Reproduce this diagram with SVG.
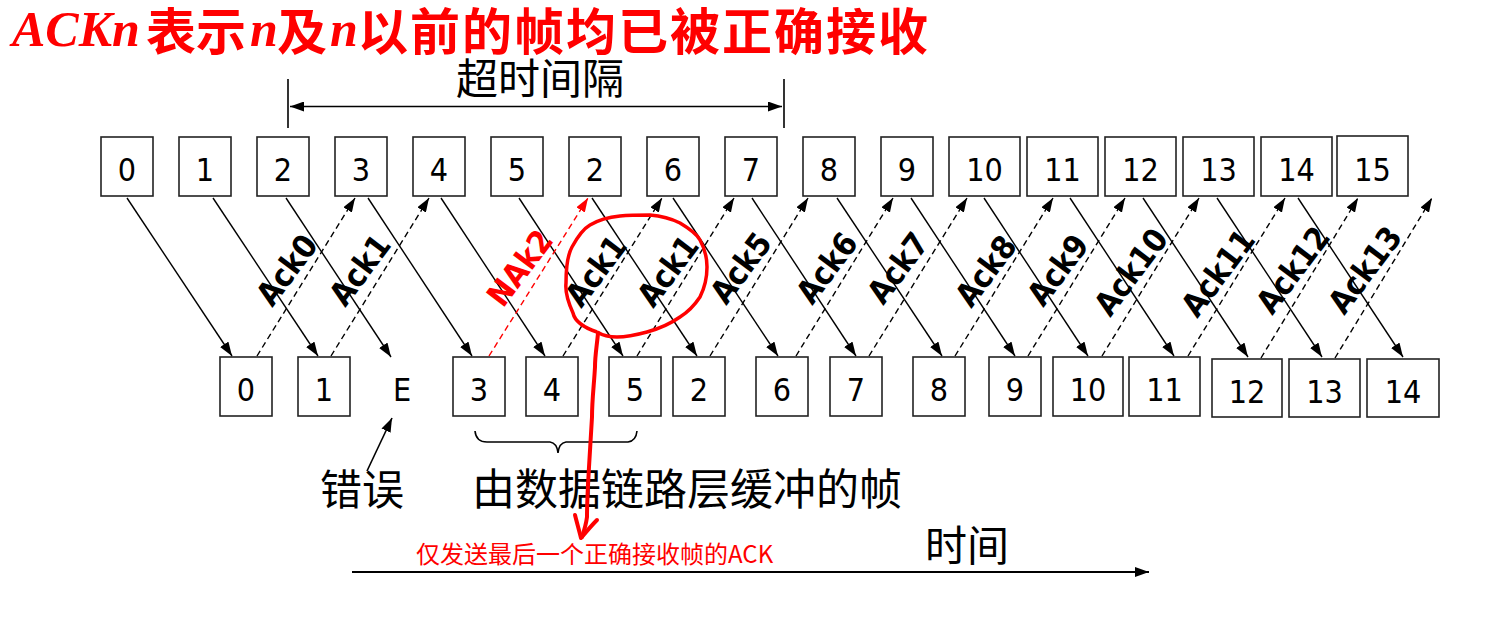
<svg xmlns="http://www.w3.org/2000/svg" width="1494" height="621" viewBox="0 0 1494 621">
<style>
.box{fill:#fff;stroke:#222;stroke-width:1.6}
.num{font-family:"DejaVu Sans Condensed","DejaVu Sans",sans-serif;font-stretch:condensed;font-size:32px;fill:#000;text-anchor:middle}
.lbl{font-family:"DejaVu Sans Condensed","DejaVu Sans",sans-serif;font-stretch:condensed;font-weight:bold;font-size:32px;fill:#000;text-anchor:middle;dominant-baseline:central}
.cjk{font-family:"Noto Sans CJK SC",sans-serif;font-size:42px;fill:#000}
.solid{stroke:#000;stroke-width:1.4;fill:none;marker-end:url(#ah)}
.dash{stroke:#000;stroke-width:1.4;fill:none;stroke-dasharray:6 4;marker-end:url(#ah)}
.red{stroke:#f00;fill:none}
</style>
<defs>
<marker id="ah" viewBox="0 0 14 10" refX="14" refY="5" markerWidth="14" markerHeight="10" markerUnits="userSpaceOnUse" orient="auto"><path d="M0,0 L14,5 L0,10 z" fill="#000"/></marker>
<marker id="ahr" viewBox="0 0 14 10" refX="14" refY="5" markerWidth="14" markerHeight="10" markerUnits="userSpaceOnUse" orient="auto"><path d="M0,0 L14,5 L0,10 z" fill="#f00"/></marker>
<marker id="ahb" viewBox="0 0 14 10" refX="14" refY="5" markerWidth="14" markerHeight="10" markerUnits="userSpaceOnUse" orient="auto-start-reverse"><path d="M0,0 L14,5 L0,10 z" fill="#000"/></marker>
</defs>
<rect width="1494" height="621" fill="#fff"/>

<g id="title">
<text fill="#f00"><tspan x="12" y="46" font-family="Liberation Serif,serif" font-weight="bold" font-style="italic" font-size="50">ACKn</tspan><tspan x="146" y="50" font-family="Noto Sans CJK SC,sans-serif" font-weight="bold" font-size="50">表示</tspan><tspan x="250" y="46" font-family="Liberation Serif,serif" font-weight="bold" font-style="italic" font-size="50">n</tspan><tspan x="277" y="50" font-family="Noto Sans CJK SC,sans-serif" font-weight="bold" font-size="50">及</tspan><tspan x="330" y="46" font-family="Liberation Serif,serif" font-weight="bold" font-style="italic" font-size="50">n</tspan><tspan x="358" y="50" font-family="Noto Sans CJK SC,sans-serif" font-weight="bold" font-size="50" letter-spacing="2">以前的帧均已被正确接收</tspan></text>
</g>

<g id="timeout">
<text class="cjk" x="540" y="94" text-anchor="middle">超时间隔</text>
<line x1="288" y1="79" x2="288" y2="128" stroke="#000" stroke-width="1.6"/>
<line x1="784" y1="79" x2="784" y2="128" stroke="#000" stroke-width="1.6"/>
<line x1="290" y1="106.5" x2="782" y2="106.5" stroke="#000" stroke-width="1.6" marker-start="url(#ahb)" marker-end="url(#ahb)"/>
</g>

<g id="sender">
<g id="s0"><rect class="box" x="101" y="137" width="52" height="59"/><text class="num" x="127" y="181">0</text></g>
<g id="s1"><rect class="box" x="179" y="137" width="52" height="59"/><text class="num" x="205" y="181">1</text></g>
<g id="s2"><rect class="box" x="257" y="137" width="52" height="59"/><text class="num" x="283" y="181">2</text></g>
<g id="s3"><rect class="box" x="335" y="137" width="52" height="59"/><text class="num" x="361" y="181">3</text></g>
<g id="s4"><rect class="box" x="413" y="137" width="52" height="59"/><text class="num" x="439" y="181">4</text></g>
<g id="s5"><rect class="box" x="491" y="137" width="52" height="59"/><text class="num" x="517" y="181">5</text></g>
<g id="s2r"><rect class="box" x="569" y="137" width="52" height="59"/><text class="num" x="595" y="181">2</text></g>
<g id="s6"><rect class="box" x="647" y="137" width="52" height="59"/><text class="num" x="673" y="181">6</text></g>
<g id="s7"><rect class="box" x="725" y="137" width="52" height="59"/><text class="num" x="751" y="181">7</text></g>
<g id="s8"><rect class="box" x="803" y="137" width="52" height="59"/><text class="num" x="829" y="181">8</text></g>
<g id="s9"><rect class="box" x="881" y="137" width="52" height="59"/><text class="num" x="907" y="181">9</text></g>
<g id="s10"><rect class="box" x="949" y="137" width="71" height="59"/><text class="num" x="984.5" y="181">10</text></g>
<g id="s11"><rect class="box" x="1027" y="137" width="71" height="59"/><text class="num" x="1062.5" y="181">11</text></g>
<g id="s12"><rect class="box" x="1105" y="137" width="71" height="59"/><text class="num" x="1140.5" y="181">12</text></g>
<g id="s13"><rect class="box" x="1183" y="137" width="71" height="59"/><text class="num" x="1218.5" y="181">13</text></g>
<g id="s14"><rect class="box" x="1261" y="137" width="71" height="59"/><text class="num" x="1296.5" y="181">14</text></g>
<g id="s15"><rect class="box" x="1337" y="136" width="71" height="60"/><text class="num" x="1372.5" y="181">15</text></g>
</g>

<g id="receiver">
<g id="r0"><rect class="box" x="220" y="357" width="52" height="59"/><text class="num" x="246" y="401">0</text></g>
<g id="r1"><rect class="box" x="298" y="357" width="52" height="59"/><text class="num" x="324" y="401">1</text></g>
<g id="rE"><text class="num" x="402" y="401">E</text></g>
<g id="r3"><rect class="box" x="453" y="357" width="52" height="59"/><text class="num" x="479" y="401">3</text></g>
<g id="r4"><rect class="box" x="526" y="357" width="52" height="59"/><text class="num" x="552" y="401">4</text></g>
<g id="r5"><rect class="box" x="609" y="357" width="52" height="59"/><text class="num" x="635" y="401">5</text></g>
<g id="r2"><rect class="box" x="673" y="357" width="52" height="59"/><text class="num" x="699" y="401">2</text></g>
<g id="r6"><rect class="box" x="756" y="357" width="52" height="59"/><text class="num" x="782" y="401">6</text></g>
<g id="r7"><rect class="box" x="830" y="357" width="52" height="59"/><text class="num" x="856" y="401">7</text></g>
<g id="r8"><rect class="box" x="913" y="357" width="52" height="59"/><text class="num" x="939" y="401">8</text></g>
<g id="r9"><rect class="box" x="989" y="357" width="52" height="59"/><text class="num" x="1015" y="401">9</text></g>
<g id="r10"><rect class="box" x="1053" y="357" width="70" height="59"/><text class="num" x="1088" y="401">10</text></g>
<g id="r11"><rect class="box" x="1129" y="357" width="71" height="59"/><text class="num" x="1164.5" y="401">11</text></g>
<g id="r12"><rect class="box" x="1212" y="359" width="70" height="58"/><text class="num" x="1247" y="403">12</text></g>
<g id="r13"><rect class="box" x="1289" y="359" width="71" height="58"/><text class="num" x="1324.5" y="403">13</text></g>
<g id="r14"><rect class="box" x="1367" y="359" width="72" height="58"/><text class="num" x="1403" y="403">14</text></g>
</g>

<g id="connectors">
<line class="solid" x1="127" y1="198" x2="232" y2="356"/>
<line class="solid" x1="213" y1="198" x2="318" y2="356"/>
<line class="solid" x1="286" y1="198" x2="391" y2="357"/>
<line class="solid" x1="368" y1="198" x2="472" y2="356"/>
<line class="solid" x1="441" y1="198" x2="545" y2="356"/>
<line class="solid" x1="519" y1="198" x2="623" y2="356"/>
<line class="solid" x1="592" y1="198" x2="697" y2="356"/>
<line class="solid" x1="673" y1="198" x2="778" y2="356"/>
<line class="solid" x1="752" y1="198" x2="856" y2="356"/>
<line class="solid" x1="837" y1="198" x2="942" y2="356"/>
<line class="solid" x1="911" y1="198" x2="1015" y2="356"/>
<line class="solid" x1="984" y1="198" x2="1088" y2="356"/>
<line class="solid" x1="1070" y1="198" x2="1174" y2="356"/>
<line class="solid" x1="1143" y1="198" x2="1248" y2="357"/>
<line class="solid" x1="1217" y1="198" x2="1322" y2="357"/>
<line class="solid" x1="1298" y1="198" x2="1403" y2="357"/>

<line class="dash" x1="257" y1="356" x2="355" y2="198"/>
<line class="dash" x1="331" y1="356" x2="429" y2="198"/>
<line x1="489" y1="356" x2="588" y2="198" stroke="#f00" stroke-width="1.4" stroke-dasharray="6 4" marker-end="url(#ahr)"/>
<line class="dash" x1="563" y1="356" x2="662" y2="198"/>
<line class="dash" x1="637" y1="356" x2="734" y2="198"/>
<line class="dash" x1="710" y1="356" x2="808" y2="198"/>
<line class="dash" x1="796" y1="356" x2="893" y2="198"/>
<line class="dash" x1="869" y1="356" x2="967" y2="198"/>
<line class="dash" x1="955" y1="356" x2="1053" y2="198"/>
<line class="dash" x1="1028" y1="356" x2="1125" y2="198"/>
<line class="dash" x1="1102" y1="356" x2="1199" y2="198"/>
<line class="dash" x1="1188" y1="356" x2="1285" y2="198"/>
<line class="dash" x1="1261" y1="358" x2="1358" y2="198"/>
<line class="dash" x1="1335" y1="358" x2="1432" y2="198"/>

<line x1="367" y1="471" x2="392" y2="418" stroke="#000" stroke-width="1.6" marker-end="url(#ah)"/>
<line x1="352" y1="572" x2="1149" y2="572" stroke="#000" stroke-width="2" marker-end="url(#ah)"/>
</g>

<g id="labels">
<text class="lbl" transform="translate(287,270) rotate(-53)">Ack0</text>
<text class="lbl" transform="translate(360,270) rotate(-53)">Ack1</text>
<text class="lbl" transform="translate(520,268) rotate(-53)" style="fill:#f00">NAk2</text>
<text class="lbl" transform="translate(596,271) rotate(-53)">Ack1</text>
<text class="lbl" transform="translate(668,271) rotate(-53)">Ack1</text>
<text class="lbl" transform="translate(741,268) rotate(-53)">Ack5</text>
<text class="lbl" transform="translate(827,268) rotate(-53)">Ack6</text>
<text class="lbl" transform="translate(898,268) rotate(-53)">Ack7</text>
<text class="lbl" transform="translate(986,271) rotate(-53)">Ack8</text>
<text class="lbl" transform="translate(1058,270) rotate(-53)">Ack9</text>
<text class="lbl" transform="translate(1131,272) rotate(-53)">Ack10</text>
<text class="lbl" transform="translate(1218,273) rotate(-53)">Ack11</text>
<text class="lbl" transform="translate(1293,270) rotate(-53)">Ack12</text>
<text class="lbl" transform="translate(1365,270) rotate(-53)">Ack13</text>
</g>

<g id="annotations">
<path d="M475,431 Q476,442 487,442 L550,442 Q557,443 558,453 Q559,443 566,442 L628,442 Q636,441 637,431" fill="none" stroke="#000" stroke-width="1.6"/>
<text class="cjk" x="320" y="505">错误</text>
<text class="cjk" x="472" y="505" font-size="43px" style="font-size:43px">由数据链路层缓冲的帧</text>
<text class="cjk" x="925" y="561">时间</text>
<text x="416" y="563" font-family="Noto Sans CJK SC,sans-serif" font-size="24" fill="#f00">仅发送最后一个正确接收帧的ACK</text>
</g>

<g id="redmark">
<path class="red" stroke-width="3.5" d="M597,332 C585,328 575,322 573,313 C568,302 565,292 566,283 C566,268 567,256 572,247 C578,236 583,229 590,225 C600,219 610,217 620,216 C630,215 640,215 650,215 C662,216 672,219 680,223 C690,229 697,234 700,240 C705,249 707,258 707,267 C707,278 704,289 700,297 C694,306 688,312 680,317 C670,324 658,329 647,332 C636,335 626,337 617,337 C608,337 602,335 597,332"/>
<path class="red" stroke-width="4" stroke-linecap="round" stroke-linejoin="round" d="M598,333 C597,345 595,355 595,367 C594,385 592,400 592,417 C591,435 590,450 589,467 C588,485 587,500 587,517 C586,525 584,531 582,537"/>
<path class="red" stroke-width="4" stroke-linecap="round" stroke-linejoin="round" d="M575,515 C577,523 579,530 581,538 C586,532 591,526 597,520"/>
</g>
</svg>
